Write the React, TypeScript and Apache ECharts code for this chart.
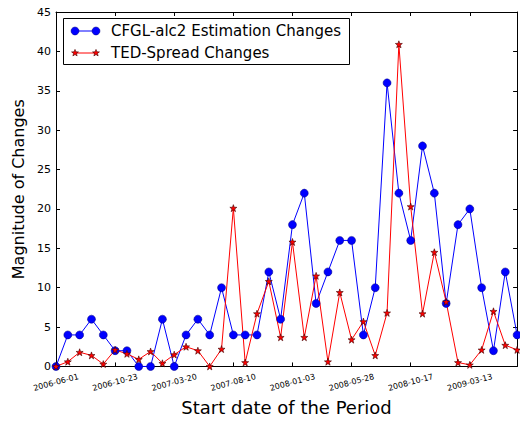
import React, { useEffect, useRef } from "react";
import * as echarts from "echarts";

// Tick labels shown every 5 periods on the x axis
const tickDates = [
  "2006-06-01",
  "2006-10-23",
  "2007-03-20",
  "2007-08-10",
  "2008-01-03",
  "2008-05-28",
  "2008-10-17",
  "2009-03-13",
];
const tickEvery = 5;

// Series values, one per period (index 0..39)
const cfglChanges = [
  0, 4, 4, 6, 4, 2, 2, 0, 0, 6, 0, 4, 6, 4, 10, 4, 4, 4, 12, 6, 18, 22, 8, 12,
  16, 16, 4, 10, 36, 22, 16, 28, 22, 8, 18, 20, 10, 2, 12, 4,
];
const tedChanges = [
  0, 0.6, 1.8, 1.4, 0.3, 2.1, 1.6, 0.9, 1.9, 0.4, 1.5, 2.5, 2.0, 0, 2.2, 20.1,
  0.5, 6.7, 10.8, 3.7, 15.8, 3.7, 11.5, 0.6, 9.4, 3.4, 5.7, 1.4, 6.8, 40.9,
  20.3, 6.7, 14.5, 8.2, 0.5, 0.2, 2.1, 7.0, 2.7, 2.1,
];

const seriesNames = ["CFGL-alc2 Estimation Changes", "TED-Spread Changes"];

const STAR =
  "path://M50 0 L61.76 33.82 L97.55 34.55 L69.02 56.18 L79.39 90.45 L50 70 L20.61 90.45 L30.98 56.18 L2.45 34.55 L38.24 33.82 Z";

function starPoints(cx: number, cy: number, R: number, r: number) {
  const pts: number[][] = [];
  for (let k = 0; k < 10; k++) {
    const ang = (-90 + k * 36) * (Math.PI / 180);
    const rad = k % 2 === 0 ? R : r;
    pts.push([cx + rad * Math.cos(ang), cy + rad * Math.sin(ang)]);
  }
  return pts;
}

const FONT = "DejaVu Sans";

export default function App() {
  const ref = useRef<HTMLDivElement>(null);
  useEffect(() => {
    if (!ref.current) return;
    const chart = echarts.init(ref.current, undefined, { renderer: "svg" });
    const axisLineStyle = { color: "#000", width: 1 };
    const tickStyle = { color: "#000", width: 1 };
    const legendRow1 = 31;
    const legendRow2 = 53;
    const option: any = {
      animation: false,
      backgroundColor: "#fff",
      textStyle: { fontFamily: FONT },
      grid: { left: 56, top: 12, width: 466, height: 360, containLabel: false },
      xAxis: [
        {
          type: "value",
          position: "bottom",
          min: 0,
          max: 39,
          interval: tickEvery,
          axisLine: { show: true, onZero: false, lineStyle: axisLineStyle },
          axisTick: { show: true, inside: true, length: 4, lineStyle: tickStyle },
          splitLine: { show: false },
          axisLabel: {
            show: true,
            rotate: 15,
            align: "center",
            verticalAlign: "middle",
            margin: 16,
            fontSize: 8,
            color: "#000",
            fontFamily: FONT,
            formatter: (v: number) =>
              v % tickEvery === 0 && tickDates[v / tickEvery] !== undefined
                ? tickDates[v / tickEvery]
                : "",
          },
          name: "Start date of the Period",
          nameLocation: "middle",
          nameGap: 27,
          nameTextStyle: { fontSize: 18, color: "#000", fontFamily: FONT },
        },
        {
          type: "value",
          position: "top",
          min: 0,
          max: 39,
          interval: tickEvery,
          axisLine: { show: true, onZero: false, lineStyle: axisLineStyle },
          axisTick: { show: true, inside: true, length: 4, lineStyle: tickStyle },
          splitLine: { show: false },
          axisLabel: { show: false },
        },
      ],
      yAxis: [
        {
          type: "value",
          position: "left",
          min: 0,
          max: 45,
          interval: 5,
          axisLine: { show: true, onZero: false, lineStyle: axisLineStyle },
          axisTick: { show: true, inside: true, length: 4, lineStyle: tickStyle },
          splitLine: { show: false },
          axisLabel: { fontSize: 11, color: "#000", margin: 5, fontFamily: FONT },
          name: "Magnitude of Changes",
          nameLocation: "middle",
          nameRotate: 90,
          nameGap: 24,
          nameTextStyle: { fontSize: 16, color: "#000", fontFamily: FONT },
        },
        {
          type: "value",
          position: "right",
          min: 0,
          max: 45,
          interval: 5,
          axisLine: { show: true, onZero: false, lineStyle: axisLineStyle },
          axisTick: { show: true, inside: true, length: 4, lineStyle: tickStyle },
          splitLine: { show: false },
          axisLabel: { show: false },
        },
      ],
      series: [
        {
          name: seriesNames[0],
          type: "line",
          xAxisIndex: 0,
          yAxisIndex: 0,
          data: cfglChanges.map((v, i) => [i, v]),
          symbol: "circle",
          symbolSize: 8,
          clip: true,
          lineStyle: { color: "#0000ff", width: 1 },
          itemStyle: { color: "#0000ff", borderColor: "#000080", borderWidth: 0.5 },
        },
        {
          name: seriesNames[1],
          type: "line",
          xAxisIndex: 0,
          yAxisIndex: 0,
          data: tedChanges.map((v, i) => [i, v]),
          symbol: STAR,
          symbolSize: 7,
          clip: true,
          lineStyle: { color: "#ff0000", width: 1 },
          itemStyle: { color: "#ff0000", borderColor: "#400000", borderWidth: 0.6 },
        },
      ],
      graphic: [
        {
          type: "group",
          z: 100,
          children: [
            {
              type: "rect",
              shape: { x: 63.5, y: 18.5, width: 286, height: 46 },
              style: { fill: "#fff", stroke: "#000", lineWidth: 1 },
            },
            {
              type: "line",
              shape: { x1: 75, y1: legendRow1, x2: 96, y2: legendRow1 },
              style: { stroke: "#0000ff", lineWidth: 1 },
            },
            {
              type: "circle",
              shape: { cx: 75, cy: legendRow1, r: 4 },
              style: { fill: "#0000ff", stroke: "#000080", lineWidth: 0.5 },
            },
            {
              type: "circle",
              shape: { cx: 96, cy: legendRow1, r: 4 },
              style: { fill: "#0000ff", stroke: "#000080", lineWidth: 0.5 },
            },
            {
              type: "text",
              x: 111,
              y: legendRow1,
              style: {
                text: seriesNames[0],
                fontSize: 15,
                fontFamily: FONT,
                fill: "#000",
                align: "left",
                verticalAlign: "middle",
              },
            },
            {
              type: "line",
              shape: { x1: 75, y1: legendRow2, x2: 96, y2: legendRow2 },
              style: { stroke: "#ff0000", lineWidth: 1 },
            },
            {
              type: "polygon",
              shape: { points: starPoints(75, legendRow2, 3.6, 1.5) },
              style: { fill: "#ff0000", stroke: "#400000", lineWidth: 0.6 },
            },
            {
              type: "polygon",
              shape: { points: starPoints(96, legendRow2, 3.6, 1.5) },
              style: { fill: "#ff0000", stroke: "#400000", lineWidth: 0.6 },
            },
            {
              type: "text",
              x: 111,
              y: legendRow2,
              style: {
                text: seriesNames[1],
                fontSize: 15,
                fontFamily: FONT,
                fill: "#000",
                align: "left",
                verticalAlign: "middle",
              },
            },
          ],
        },
      ],
    };
    chart.setOption(option);
    return () => chart.dispose();
  }, []);
  return (
    <div
      ref={ref}
      style={{ position: "absolute", left: 0, top: 0, width: 520, height: 421 }}
    />
  );
}
